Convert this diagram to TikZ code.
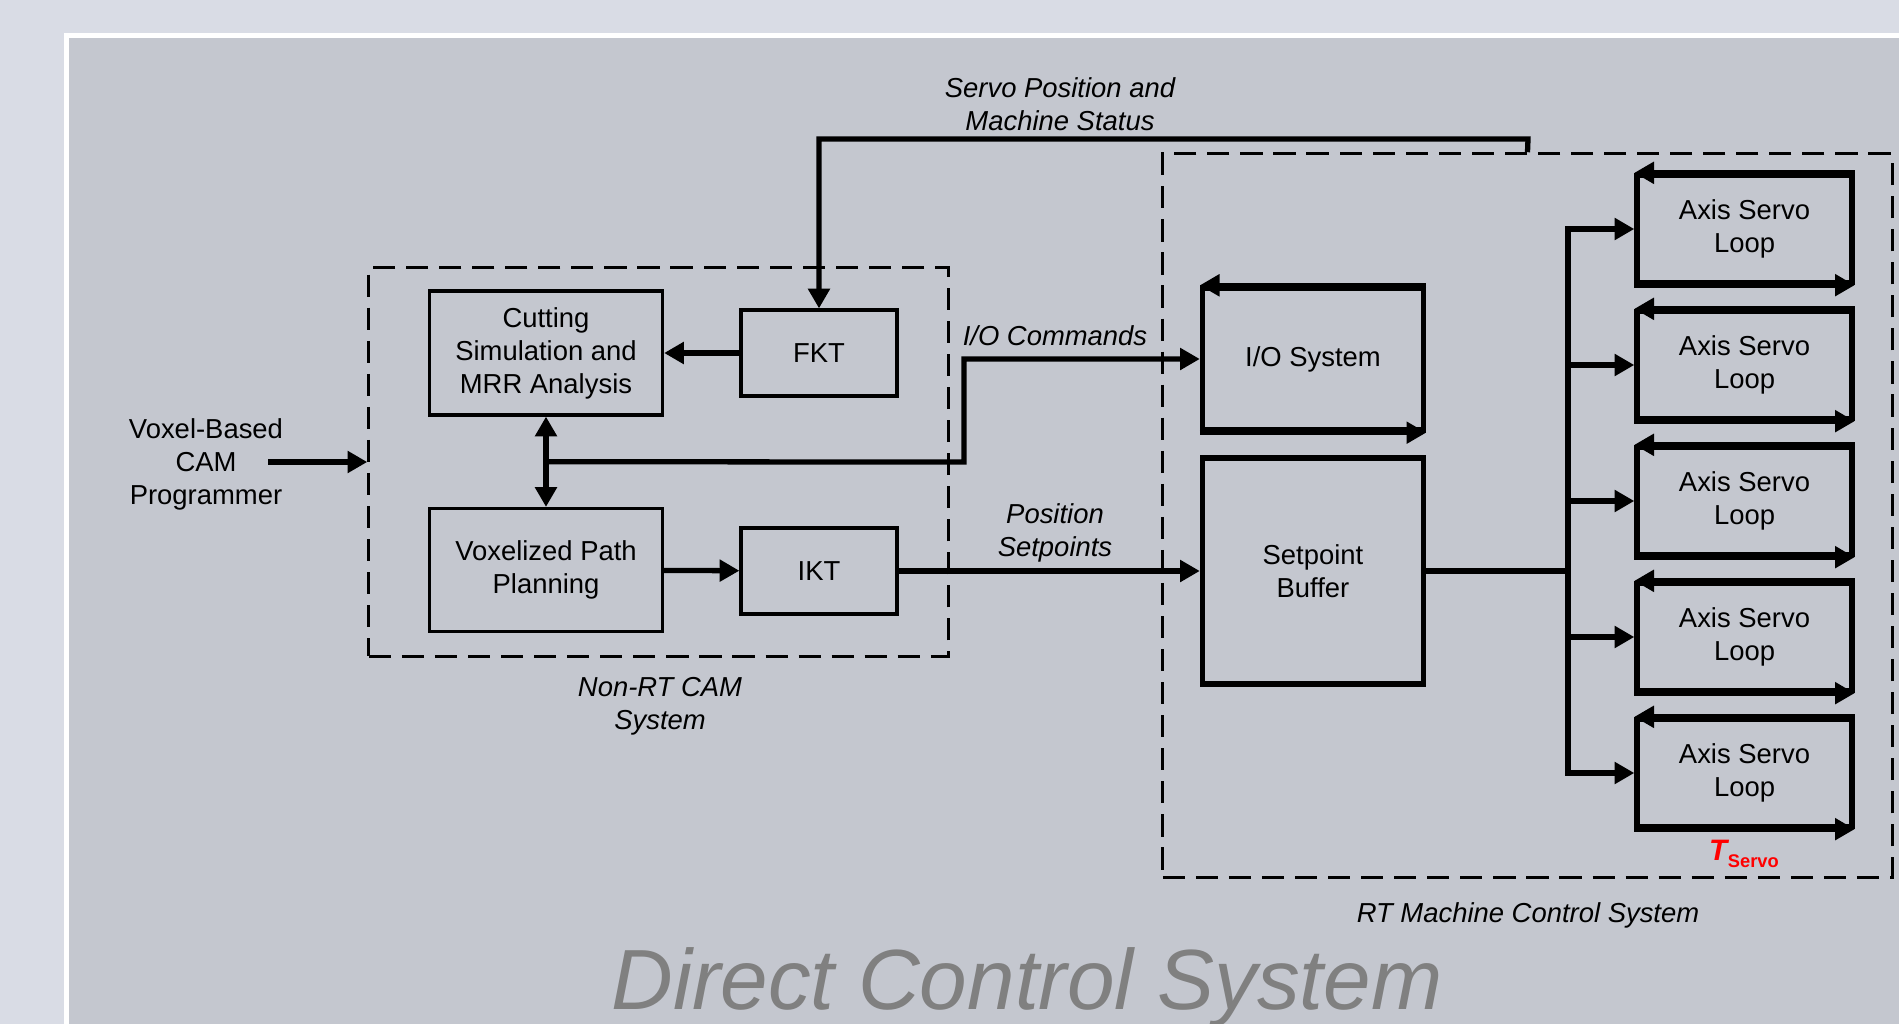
\documentclass[tikz,border=0pt]{standalone}
\usepackage{fontspec}
\setmainfont{Liberation Sans}
\usetikzlibrary{arrows.meta,calc}
\definecolor{pagebg}{RGB}{217,220,229}
\definecolor{panelbg}{RGB}{196,199,207}
\definecolor{titlegray}{RGB}{128,128,128}

\begin{document}
\begin{tikzpicture}[
        x=0.01cm, y=-0.01cm,
        every node/.style={font=\fontsize{7.8}{9.4}\selectfont, align=center, inner sep=0pt},
        block/.style={draw, line width=0.9pt},
        loopbox/.style={draw, line width=1.5pt},
        axisbox/.style={loopbox, minimum width=2.15cm, minimum height=1.07cm},
        group/.style={draw, dash pattern=on 6.3pt off 3.1pt, line width=0.9pt},
        note/.style={font=\fontsize{7.8}{9.4}\selectfont\itshape},
        conn/.style={line width=1.5pt, -{Triangle[length=5.6pt, width=6pt]}},
        bus/.style={line width=1.5pt, line cap=rect}
    ]
    \useasboundingbox (0,0) rectangle (1899,1024);
    \fill[pagebg] (0,0) rectangle (1899,1024);
    \fill[white] (64,33) rectangle (1899,1024);
    \fill[panelbg] (69,38) rectangle (1899,1024);

    % dashed groups
    \node[group, minimum width=5.79cm, minimum height=3.88cm] (camsys) at (658.5,462) {};
    \node[group, minimum width=7.29cm, minimum height=7.23cm] (rtsys) at (1527.5,515.5) {};

    % non-RT side
    \node[block, minimum width=2.33cm, minimum height=1.24cm] (cut) at (546,353) {Cutting\\Simulation and\\MRR Analysis};
    \node[block, minimum width=1.56cm, minimum height=0.86cm] (fkt) at (819,353) {FKT};
    \node[block, minimum width=2.33cm, minimum height=1.23cm] (vox) at (546,570) {Voxelized Path\\Planning};
    \node[block, minimum width=1.56cm, minimum height=0.86cm] (ikt) at (819,571) {IKT};
    \node (prog) at (206,464) {Voxel-Based\\CAM\\Programmer};

    % RT side
    \node[loopbox, minimum width=2.21cm, minimum height=1.42cm] (io) at (1313,359) {I/O System};
    \node[loopbox, minimum width=2.21cm, minimum height=2.26cm] (buf) at (1313,571) {Setpoint\\Buffer};
    \node[axisbox] (ax1) at (1744.5,229) {Axis Servo\\Loop};
    \node[axisbox] (ax2) at (1744.5,365) {Axis Servo\\Loop};
    \node[axisbox] (ax3) at (1744.5,501) {Axis Servo\\Loop};
    \node[axisbox] (ax4) at (1744.5,637) {Axis Servo\\Loop};
    \node[axisbox] (ax5) at (1744.5,773) {Axis Servo\\Loop};

    % labels
    \node[note] (fblabel) at (1060,104) {Servo Position and\\Machine Status};
    \node[note] (iolabel) at (1055,336) {I/O Commands};
    \node[note] (splabel) at (1055,533) {Position\\Setpoints};
    \node[note] (camlabel) at (660,706) {Non-RT CAM\\System};
    \node[note] (rtlabel) at (1528,915) {RT Machine Control System};
    \node[text=red, font=\fontsize{8.4}{10}\selectfont\bfseries] (tservo) at (1744,854)
        {\itshape T\kern0.2pt\raisebox{-0.45ex}{\upshape\fontsize{5.2}{6}\selectfont Servo}};
    \node[text=titlegray, font=\fontsize{24.3}{28}\selectfont\itshape, anchor=base] (title) at (1027,1009) {Direct Control System};

    % connectors
    \coordinate (fbtop) at (1528,139);
    \coordinate (cutvox) at ($(cut.south)!0.5!(vox.north)$);
    \coordinate (iobend) at (964,462);
    \coordinate (progout) at (268,462);
    \coordinate (bustop) at (1568,229);
    \coordinate (busbot) at (1568,773);

    \draw[conn] (rtsys.north) -- (fbtop) -| (fkt.north);
    \draw[conn] (fkt) -- (cut);
    \draw[conn] (vox) -- (ikt);
    \draw[conn] (ikt) -- (buf);
    \draw[conn] (progout) -- (progout -| camsys.west);
    \draw[line width=1.5pt, {Triangle[length=5.6pt, width=6pt]}-{Triangle[length=5.6pt, width=6pt]}] (cut) -- (vox);
    \draw[conn] (cutvox) -- (iobend) |- (io.west);

    \draw[bus] (buf.east) -- (buf.east -| bustop);
    \draw[bus] (bustop) -- (busbot);
    \foreach \n in {ax1,ax2,ax3,ax4,ax5}
        \draw[conn] (\n.west -| bustop) -- (\n.west);
    \foreach \n in {io,ax1,ax2,ax3,ax4,ax5} {
        \draw[conn] (\n.north east) -- (\n.north west);
        \draw[conn] (\n.south west) -- (\n.south east);
    }
\end{tikzpicture}
\end{document}
